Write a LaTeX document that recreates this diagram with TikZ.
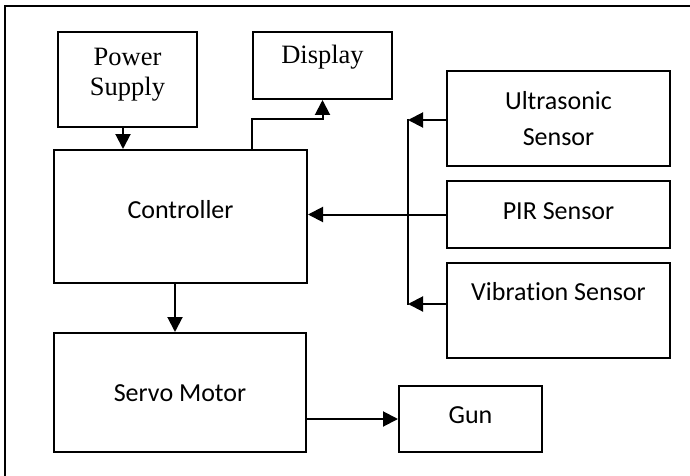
\documentclass[tikz,border=0pt]{standalone}
\usepackage{fontspec}
\setmainfont{Carlito}[Ligatures=NoCommon]
\newfontfamily\serifface{Liberation Serif}
\usetikzlibrary{arrows.meta,calc}
\begin{document}
\begin{tikzpicture}[x=1pt,y=-1pt,
  box/.style={draw,line width=2pt,rectangle,inner sep=0pt},
  sanslbl/.style={font=\fontsize{26}{36}\selectfont,align=center},
  seriflbl/.style={font=\serifface\fontsize{26.5}{30}\selectfont,align=center},
  conn/.style={line width=2pt},
  arr/.style={line width=2pt,-{Triangle[length=15pt,width=15pt]}}]
\useasboundingbox (0,0) rectangle (690,476);
% frame
\draw[line width=2.8pt] (5,476) -- (5,6) -- (690,6);
% boxes
\node[box,minimum width=139pt,minimum height=95pt,
  label={[seriflbl,yshift=5pt]center:Power\\Supply}] (power) at (127.5,79.5) {};
\node[box,minimum width=139pt,minimum height=67pt,
  label={[seriflbl,yshift=8pt]center:Display}] (display) at (322.5,65.5) {};
\node[box,minimum width=253pt,minimum height=133pt,
  label={[sanslbl,yshift=7pt]center:Controller}] (ctrl) at (180.5,216.5) {};
\node[box,minimum width=223pt,minimum height=95pt,
  label={[sanslbl]center:Ultrasonic\\Sensor}] (us) at (558.5,118.5) {};
\node[box,minimum width=223pt,minimum height=67pt,
  label={[sanslbl,yshift=3pt]center:PIR Sensor}] (pir) at (558.5,214.5) {};
\node[box,minimum width=223pt,minimum height=95pt,
  label={[sanslbl,yshift=19pt]center:Vibration Sensor}] (vib) at (558.5,310.5) {};
\node[box,minimum width=252pt,minimum height=119pt,
  label={[sanslbl,yshift=-1pt]center:Servo Motor}] (servo) at (180,392.5) {};
\node[box,minimum width=143pt,minimum height=66pt,
  label={[sanslbl,yshift=4pt]center:Gun}] (gun) at (470.5,419) {};
% bus coordinates
\coordinate (busT) at (408,120);
\coordinate (busB) at (408,304);
% connectors
\draw[arr] ([xshift=-4.5pt]power.south) -- ([xshift=-4.5pt]power.south |- ctrl.north);
\draw[arr] (ctrl.north -| display.west) -- ++(0,-30) -| (display.south);
\draw[arr] (us.west |- busT) -- (busT);
\draw[arr] (vib.west |- busB) -- (busB);
\draw[conn] ([yshift=1pt]busT) -- ([yshift=-1pt]busB);
\draw[arr] (pir.west) -- (pir.west -| ctrl.east);
\draw[arr] ([xshift=-5.5pt]ctrl.south) -- ([xshift=-5.5pt]ctrl.south |- servo.north);
\draw[arr] (servo.east |- gun.west) -- (gun.west);
\end{tikzpicture}
\end{document}
